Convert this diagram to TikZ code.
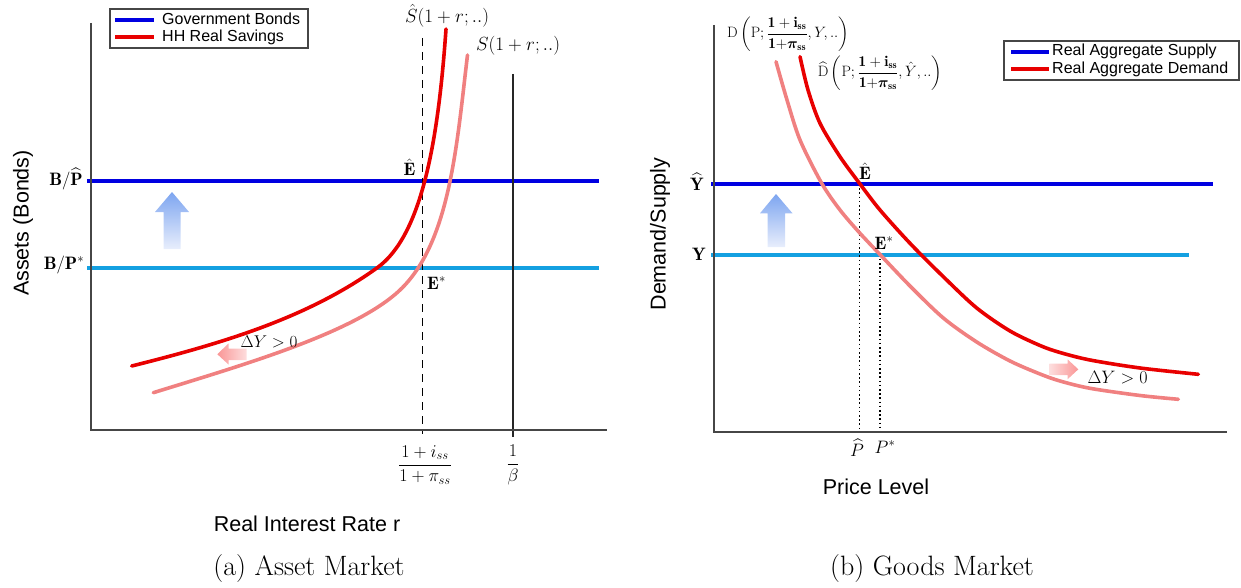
\RequirePackage{fix-cm}
\documentclass[tikz,border=0pt]{standalone}
\usepackage{amsmath,bm}
\usepackage{fontspec}
\newfontfamily\arialf{Liberation Sans}
\definecolor{bondblue}{RGB}{0,0,225}
\definecolor{lightblue}{RGB}{20,160,225}
\definecolor{darkred}{RGB}{232,0,0}
\definecolor{lightred}{RGB}{240,128,128}
\definecolor{axisgray}{RGB}{70,70,70}
\definecolor{arrowblue}{RGB}{125,165,240}
\definecolor{arrowbluelight}{RGB}{232,238,252}
\definecolor{arrowpink}{RGB}{250,150,150}
\definecolor{arrowpinklight}{RGB}{253,222,222}
\tikzset{
  axisline/.style={draw=axisgray, line width=2pt},
  hline/.style={line width=4pt},
  curve/.style={line width=3.6pt, line cap=round},
  legendbox/.style={draw=axisgray, line width=1.5pt},
  legtext/.style={font=\arialf\fontsize{16}{18}\selectfont, anchor=west, inner sep=0pt},
  axtitle/.style={font=\arialf\fontsize{21.5}{24}\selectfont, inner sep=0pt},
  mlabel/.style={font=\fontsize{18}{21}\selectfont, inner sep=0pt},
  slabel/.style={font=\fontsize{15}{18}\selectfont, inner sep=0pt},
  caption/.style={font=\fontsize{28}{32}\selectfont, inner sep=0pt},
}
\begin{document}
\begin{tikzpicture}[x=1pt,y=-1pt]
\useasboundingbox (0,0) rectangle (1241,588);
%% ================= LEFT PANEL =================
\draw[bondblue, hline] (87,181.5) -- (599,181.5);
\draw[lightblue, hline] (87,267.5) -- (599,267.5);
\draw[black, line width=1.3pt, dash pattern=on 8pt off 6pt] (422.5,38) -- (422.5,434);
\draw[black!85, line width=1.5pt] (513,74) -- (513,437);
\draw[axisline] (91,23) -- (91,430) -- (607,430);
\draw[lightred, curve] (153.3,392.7) .. controls (243.3,364.8) and (355,332.75) .. (400,290)
  .. controls (450,242.5) and (456.7,145) .. (467.5,55);
\draw[darkred, curve] (131.7,366) .. controls (221.7,343.5) and (307.3,318.1) .. (377.3,267.7)
  .. controls (422.3,235.3) and (438.3,139) .. (446,29);
\shade[top color=arrowblue, bottom color=arrowbluelight]
  (163.5,249) -- (163.5,212) -- (155,212) -- (172,192) -- (189,212) -- (180.5,212) -- (180.5,249) -- cycle;
\shade[left color=arrowpink, right color=arrowpinklight]
  (246.7,348.5) -- (228.5,348.5) -- (228.5,343.5) -- (217.3,354.2) -- (228.5,364.5) -- (228.5,360) -- (246.7,360) -- cycle;
\draw[legendbox, fill=white] (110,9) rectangle (308,48);
\draw[bondblue, line width=4pt] (115,20) -- (154,20);
\draw[darkred, line width=4pt] (115,37) -- (154,37);
\node[legtext] (lgb) at (162,19) {Government Bonds};
\node[legtext] (lgs) at (162,37) {HH Real Savings};
\node[mlabel] (bph) at (66,179) {$\mathbf{B}/\widehat{\mathbf{P}}$};
\node[mlabel] (bps) at (64,265) {$\mathbf{B}/\mathbf{P}^{*}$};
\node[mlabel] (eh1) at (409.5,167) {$\hat{\mathbf{E}}$};
\node[mlabel] (es1) at (436.5,283) {$\mathbf{E}^{*}$};
\node[font=\fontsize{19}{22}\selectfont, inner sep=0pt] (shat) at (447,16) {$\hat{S}(1+r;..)$};
\node[font=\fontsize{19}{22}\selectfont, inner sep=0pt] (sl) at (518,46) {$S(1+r;..)$};
\node[font=\fontsize{17}{20}\selectfont, inner sep=0pt] (dy1) at (269,341.5) {$\Delta Y>0$};
\node[mlabel] (fr1) at (425,465) {$\dfrac{1+i_{ss}}{1+\pi_{ss}}$};
\node[mlabel] (fb) at (513,465) {$\dfrac{1}{\beta}$};
\node[axtitle] (xt1) at (307,524) {Real Interest Rate r};
\node[axtitle, rotate=90] (yt1) at (23,223) {Assets (Bonds)};
\node[caption] (cap1) at (309,569) {(a) Asset Market};
%% ================= RIGHT PANEL =================
\draw[bondblue, hline] (711,184) -- (1213,184);
\draw[lightblue, hline] (711,254.5) -- (1189,254.5);
\draw[black, line width=1.6pt, dash pattern=on 1.6pt off 2.6pt] (859.5,184) -- (859.5,433);
\draw[black, line width=1.6pt, dash pattern=on 1.6pt off 2.6pt] (880,254.5) -- (880,433);
\draw[axisline] (714,25) -- (714,432) -- (1227,432);
\draw[lightred, curve] plot[smooth, tension=0.5] coordinates {(776,61.7) (787,100) (800,140) (821.7,183.3) (840,210) (860,233.3) (880,254.5) (910,286) (943.3,318) (976.7,342) (1010,361) (1040,374) (1060,381) (1090,388.3) (1140,395.5) (1178.3,399.3)};
\draw[darkred, curve] plot[smooth, tension=0.5] coordinates {(800,56.7) (808,90) (820,123.3) (840,156.7) (860,184) (880,210) (910,243.3) (943.3,276.7) (976.7,308) (1010,331) (1040,345.5) (1060,352.5) (1090,360) (1140,368) (1198.3,374.3)};
\shade[top color=arrowblue, bottom color=arrowbluelight]
  (767.5,247) -- (767.5,213.3) -- (760,213.3) -- (776,194) -- (792.5,213.3) -- (785,213.3) -- (785,247) -- cycle;
\shade[left color=arrowpinklight, right color=arrowpink]
  (1049.3,363.5) -- (1067.5,363.5) -- (1067.5,359.3) -- (1078.3,369.3) -- (1067.5,379.3) -- (1067.5,375) -- (1049.3,375) -- cycle;
\draw[legendbox, fill=white] (1004,41) rectangle (1239,80);
\draw[bondblue, line width=4pt] (1011,52) -- (1049,52);
\draw[darkred, line width=4pt] (1011,69) -- (1049,69);
\node[legtext] (lrs) at (1052,51) {Real Aggregate Supply};
\node[legtext] (lrd) at (1052,69) {Real Aggregate Demand};
\node[mlabel] (yh) at (697,182) {$\widehat{\mathbf{Y}}$};
\node[mlabel] (yy) at (699,254) {$\mathbf{Y}$};
\node[mlabel] (eh2) at (865,171) {$\hat{\mathbf{E}}$};
\node[mlabel] (es2) at (884,243) {$\mathbf{E}^{*}$};
\node[mlabel] (ph) at (857,448) {$\widehat{P}$};
\node[mlabel] (ps) at (885,447) {$P^{*}$};
\node[slabel] (dl) at (788,34) {$\mathrm{D}\left(\mathrm{P};\dfrac{\mathbf{1+i}_{\mathbf{ss}}}{\mathbf{1+}\bm{\pi}_{\mathbf{ss}}},Y,..\right)$};
\node[slabel] (dhl) at (880,73) {$\widehat{\mathrm{D}}\left(\mathrm{P};\dfrac{\mathbf{1+i}_{\mathbf{ss}}}{\mathbf{1+}\bm{\pi}_{\mathbf{ss}}},\hat{Y},..\right)$};
\node[font=\fontsize{18}{21}\selectfont, inner sep=0pt] (dy2) at (1117.5,377.5) {$\Delta Y>0$};
\node[axtitle] (xt2) at (876,487) {Price Level};
\node[axtitle, rotate=90] (yt2) at (660,234) {Demand/Supply};
\node[caption] (cap2) at (932,569) {(b) Goods Market};
\end{tikzpicture}
\end{document}
